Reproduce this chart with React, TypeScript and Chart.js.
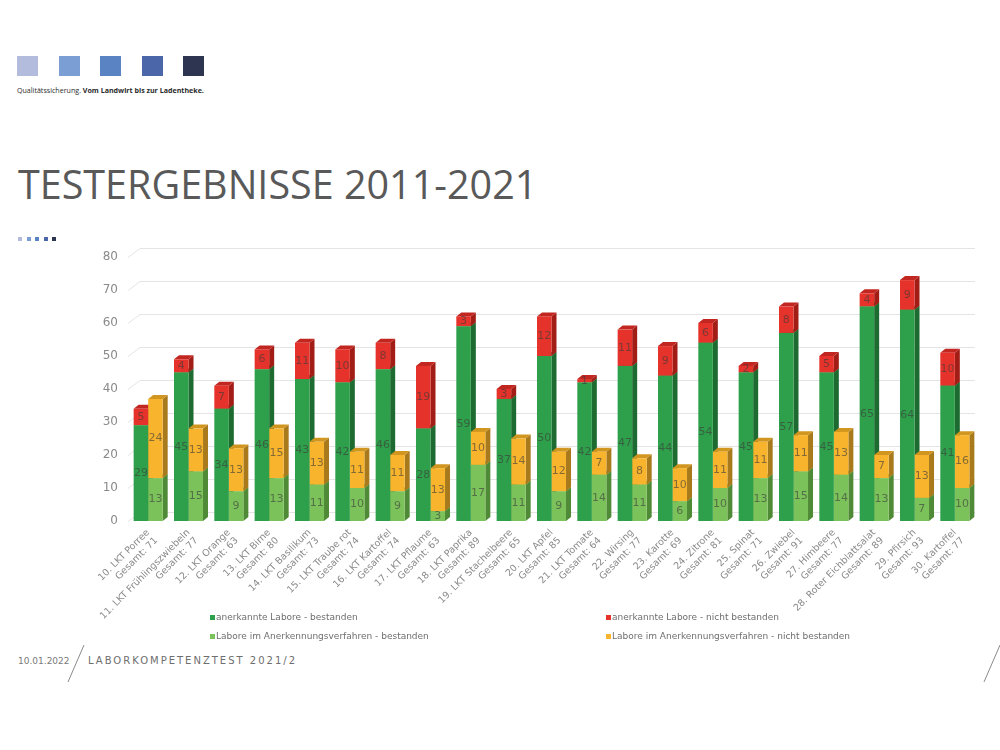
import React, { useEffect, useRef } from "react";
import { Chart, registerables } from "chart.js";

Chart.register(...registerables);

// Test rounds (LKT = Laborkompetenztest) and number of participating labs
const categories = [
  "10. LKT Porree",
  "11. LKT Frühlingszwiebeln",
  "12. LKT Orange",
  "13. LKT Birne",
  "14. LKT Basilikum",
  "15. LKT Traube rot",
  "16. LKT Kartoffel",
  "17. LKT Pflaume",
  "18. LKT Paprika",
  "19. LKT Stachelbeere",
  "20. LKT Apfel",
  "21. LKT Tomate",
  "22. Wirsing",
  "23. Karotte",
  "24. Zitrone",
  "25. Spinat",
  "26. Zwiebel",
  "27. Himbeere",
  "28. Roter Eichblattsalat",
  "29. Pfirsich",
  "30. Kartoffel",
];
const totals = [71, 77, 63, 80, 73, 74, 74, 63, 89, 65, 85, 64, 77, 69, 81, 71, 91, 77, 89, 93, 77];

// anerkannte Labore
const recognizedPassed = [29, 45, 34, 46, 43, 42, 46, 28, 59, 37, 50, 42, 47, 44, 54, 45, 57, 45, 65, 64, 41];
const recognizedFailed = [5, 4, 7, 6, 11, 10, 8, 19, 3, 3, 12, 1, 11, 9, 6, 2, 8, 5, 4, 9, 10];
// Labore im Anerkennungsverfahren
const pendingPassed = [13, 15, 9, 13, 11, 10, 9, 3, 17, 11, 9, 14, 11, 6, 10, 13, 15, 14, 13, 7, 10];
const pendingFailed = [24, 13, 13, 15, 13, 11, 11, 13, 10, 14, 12, 7, 8, 10, 11, 11, 11, 13, 7, 13, 16];

const yTicks = [0, 10, 20, 30, 40, 50, 60, 70, 80];

const seriesNames = [
  "anerkannte Labore - bestanden",
  "anerkannte Labore - nicht bestanden",
  "Labore im Anerkennungsverfahren - bestanden",
  "Labore im Anerkennungsverfahren - nicht bestanden",
];

const FRONT = ["#2e9f4a", "#e5322a", "#7cc25a", "#f8b42c"];
const SIDE = ["#1d6b31", "#a31d17", "#4f8a37", "#a97a1c"];
const TOP = ["#247e3a", "#c22620", "#64a447", "#d1961f"];

const DEPTH_X = 5;
const DEPTH_Y = 4;
const WALL_X = 12;
const WALL_Y = 9;

// Draws the back wall grid and the side/top faces that give the bars depth
const depthPlugin = {
  id: "depthFaces",
  beforeDatasetsDraw(chart: any) {
    const { ctx, chartArea, scales } = chart;
    const y = scales.y;
    ctx.save();
    ctx.strokeStyle = "#e4e4e4";
    ctx.lineWidth = 1;
    yTicks.forEach((v) => {
      const py = Math.round(y.getPixelForValue(v)) + 0.5;
      ctx.beginPath();
      ctx.moveTo(chartArea.left, py);
      ctx.lineTo(chartArea.left + WALL_X, py - WALL_Y);
      ctx.lineTo(chartArea.right, py - WALL_Y);
      ctx.stroke();
    });
    chart.data.datasets.forEach((_: any, di: number) => {
      const meta = chart.getDatasetMeta(di);
      meta.data.forEach((bar: any) => {
        const p = bar.getProps(["x", "y", "base", "width"], true);
        const left = p.x - p.width / 2;
        const right = p.x + p.width / 2;
        const top = Math.min(p.y, p.base);
        const bottom = Math.max(p.y, p.base);
        ctx.fillStyle = SIDE[di];
        ctx.beginPath();
        ctx.moveTo(right, bottom);
        ctx.lineTo(right + DEPTH_X, bottom - DEPTH_Y);
        ctx.lineTo(right + DEPTH_X, top - DEPTH_Y);
        ctx.lineTo(right, top);
        ctx.closePath();
        ctx.fill();
        ctx.fillStyle = TOP[di];
        ctx.beginPath();
        ctx.moveTo(left, top);
        ctx.lineTo(left + DEPTH_X, top - DEPTH_Y);
        ctx.lineTo(right + DEPTH_X, top - DEPTH_Y);
        ctx.lineTo(right, top);
        ctx.closePath();
        ctx.fill();
      });
    });
    ctx.restore();
  },
};

// Writes each segment's value in its middle
const valueLabelPlugin = {
  id: "segmentValues",
  afterDatasetsDraw(chart: any) {
    const { ctx } = chart;
    ctx.save();
    ctx.font = '11px "DejaVu Sans"';
    ctx.textAlign = "center";
    ctx.textBaseline = "middle";
    ctx.fillStyle = "rgba(60,60,60,0.62)";
    chart.data.datasets.forEach((ds: any, di: number) => {
      const meta = chart.getDatasetMeta(di);
      meta.data.forEach((bar: any, i: number) => {
        const p = bar.getProps(["x", "y", "base"], true);
        ctx.fillText(String(ds.data[i]), p.x, (p.y + p.base) / 2);
      });
    });
    ctx.restore();
  },
};

function ChartCanvas() {
  const ref = useRef<HTMLCanvasElement | null>(null);
  useEffect(() => {
    if (!ref.current) return;
    const labels = categories.map((c, i) => [c, "Gesamt: " + totals[i]]);
    const chart = new Chart(ref.current, {
      type: "bar",
      data: {
        labels,
        datasets: [
          { label: seriesNames[0], data: recognizedPassed, backgroundColor: FRONT[0], stack: "a" },
          { label: seriesNames[1], data: recognizedFailed, backgroundColor: FRONT[1], stack: "a" },
          { label: seriesNames[2], data: pendingPassed, backgroundColor: FRONT[2], stack: "b" },
          { label: seriesNames[3], data: pendingFailed, backgroundColor: FRONT[3], stack: "b" },
        ],
      },
      options: {
        animation: false,
        responsive: false,
        devicePixelRatio: 1,
        layout: { padding: { top: 27, right: 25, left: 0, bottom: 30 } },
        datasets: { bar: { categoryPercentage: 0.72, barPercentage: 1 } },
        plugins: { legend: { display: false }, tooltip: { enabled: false } },
        scales: {
          x: {
            stacked: true,
            grid: { display: false, drawTicks: false },
            border: { display: false },
            afterFit: (s: any) => {
              s.height = 99;
            },
            ticks: {
              autoSkip: false,
              maxRotation: 45,
              minRotation: 45,
              padding: 6,
              color: "#8a8a8a",
              font: { family: "DejaVu Sans", size: 9.5 },
            },
          },
          y: {
            stacked: true,
            min: 0,
            max: 80,
            grid: { display: false, drawTicks: false },
            border: { display: false },
            afterFit: (s: any) => {
              s.width = 128;
            },
            afterBuildTicks: (s: any) => {
              s.ticks = yTicks.map((v) => ({ value: v }));
            },
            ticks: {
              padding: 10,
              color: "#8a8a8a",
              font: { family: "DejaVu Sans", size: 12 },
            },
          },
        },
      },
      plugins: [depthPlugin, valueLabelPlugin],
    });
    return () => chart.destroy();
  }, []);
  return (
    <canvas
      ref={ref}
      width={1000}
      height={420}
      style={{ position: "absolute", left: 0, top: 230, width: 1000, height: 420 }}
    />
  );
}

const headerBlocks = ["#b3bcdc", "#7b9fd4", "#5a83c4", "#4b66a9", "#2d3550"];

export default function App() {
  const legendItem = (i: number, left: number, top: number) => (
    <div
      key={i}
      style={{
        position: "absolute",
        left,
        top,
        fontFamily: '"DejaVu Sans", sans-serif',
        fontSize: 9,
        color: "#6e6e6e",
        whiteSpace: "nowrap",
        lineHeight: "12px",
      }}
    >
      <span
        style={{
          display: "inline-block",
          width: 5,
          height: 5,
          background: FRONT[i],
          marginRight: 1,
          verticalAlign: "middle",
        }}
      />
      {seriesNames[i]}
    </div>
  );
  return (
    <div
      style={{
        position: "absolute",
        left: 0,
        top: 0,
        width: 1000,
        height: 750,
        background: "#ffffff",
        overflow: "hidden",
      }}
    >
      {headerBlocks.map((c, i) => (
        <div
          key={c}
          style={{
            position: "absolute",
            left: [17, 59, 100, 142, 183][i],
            top: 56,
            width: 21,
            height: 20,
            background: c,
          }}
        />
      ))}
      <div
        style={{
          position: "absolute",
          left: 17,
          top: 85,
          fontFamily: '"Open Sans", sans-serif',
          fontSize: 7.1,
          color: "#2b2b2b",
          whiteSpace: "nowrap",
        }}
      >
        Qualitätssicherung. <b>Vom Landwirt bis zur Ladentheke.</b>
      </div>
      <div
        style={{
          position: "absolute",
          left: 18,
          top: 158,
          fontFamily: '"Open Sans", sans-serif',
          fontSize: 39.5,
          fontWeight: 400,
          color: "#595959",
          whiteSpace: "nowrap",
          lineHeight: "52px",
        }}
      >
        TESTERGEBNISSE 2011-2021
      </div>
      {headerBlocks.map((c, i) => (
        <div
          key={"d" + c}
          style={{
            position: "absolute",
            left: 18 + i * 8.5,
            top: 237,
            width: 4,
            height: 4,
            background: c,
          }}
        />
      ))}
      <ChartCanvas />
      {legendItem(0, 210, 611)}
      {legendItem(1, 606, 611)}
      {legendItem(2, 210, 630)}
      {legendItem(3, 606, 630)}
      <div
        style={{
          position: "absolute",
          left: 18,
          top: 656,
          fontFamily: '"DejaVu Sans", sans-serif',
          fontSize: 9,
          color: "#7a7a7a",
          whiteSpace: "nowrap",
        }}
      >
        10.01.2022
      </div>
      <div
        style={{
          position: "absolute",
          left: 88,
          top: 655,
          fontFamily: '"DejaVu Sans", sans-serif',
          fontSize: 10,
          letterSpacing: 2,
          color: "#6e6e6e",
          whiteSpace: "nowrap",
        }}
      >
        LABORKOMPETENZTEST 2021/2
      </div>
      <svg
        width={1000}
        height={750}
        style={{ position: "absolute", left: 0, top: 0, pointerEvents: "none" }}
      >
        <line x1={68} y1={682} x2={84} y2={645} stroke="#8a8a8a" strokeWidth={1} />
        <line x1={984} y1={682} x2={1000} y2={645} stroke="#8a8a8a" strokeWidth={1} />
      </svg>
    </div>
  );
}
